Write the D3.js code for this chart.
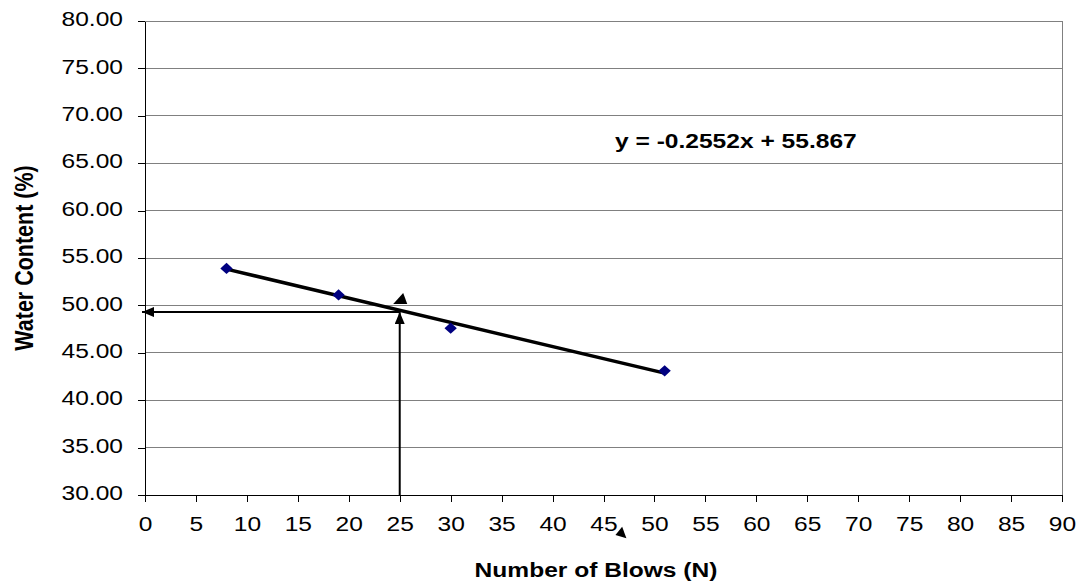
<!DOCTYPE html>
<html><head><meta charset="utf-8">
<script src="https://cdn.jsdelivr.net/npm/d3@7"></script>
<style>body{margin:0;background:#fff;} svg{display:block;} text{font-family:"Liberation Sans",Arial,sans-serif;}</style>
</head><body><svg id="c" width="1080" height="582"></svg>
<script>
// Data
const blows = [8, 19, 30, 51];
const waterContent = [53.9, 51.1, 47.6, 43.1];
const slope = -0.2552, intercept = 55.867;
const trendX = [8, 51];
const xTicks = d3.range(0, 91, 5);
const yTicks = d3.range(30, 80.01, 5);
const xTitle = "Number of Blows (N)";
const yTitle = "Water Content (%)";
const equation = "y = -0.2552x + 55.867";
const liquidLimitN = 25;
const liquidLimitW = 49.3;
// stray arrowheads (data units)
const strayHeads = [
  [[24.36, 50.15], [25.74, 50.15], [25.34, 51.31]],
  [[46.17, 25.78], [46.83, 26.66], [47.25, 25.43]]
];

const SX = 1.17; // horizontal text stretch of the original
const svg = d3.select("#c");
const L = 145, R = 1062, T = 21, B = 495;
const x = d3.scaleLinear().domain([0, 90]).range([L, R]);
const y = d3.scaleLinear().domain([30, 80]).range([B, T]);

// gridlines
svg.append("g").selectAll("line").data(yTicks).join("line")
  .attr("x1", L).attr("x2", R).attr("y1", d => y(d)).attr("y2", d => y(d))
  .attr("stroke", "#808080").attr("stroke-width", 1).attr("shape-rendering", "crispEdges");
// right border
svg.append("line").attr("x1", R).attr("x2", R).attr("y1", T).attr("y2", B)
  .attr("stroke", "#808080").attr("shape-rendering", "crispEdges");

// axes
const xAxis = svg.append("g").attr("transform", `translate(0,${B})`)
  .call(d3.axisBottom(x).tickValues(xTicks).tickSize(7).tickSizeOuter(0).tickPadding(14).tickFormat(d3.format("d")));
const yAxis = svg.append("g").attr("transform", `translate(${L},0)`)
  .call(d3.axisLeft(y).tickValues(yTicks).tickSize(7).tickSizeOuter(0).tickFormat(d3.format(".2f")));
[xAxis, yAxis].forEach(a => {
  a.select(".domain").attr("stroke", "#000").attr("shape-rendering", "crispEdges");
  a.selectAll(".tick line").attr("stroke", "#000").attr("shape-rendering", "crispEdges");
  a.selectAll("text").attr("font-size", 21).attr("fill", "#000").attr("font-family", '"Liberation Sans",Arial,sans-serif');
});
xAxis.selectAll(".tick text").attr("transform", `scale(${SX},1)`);
yAxis.selectAll(".tick text").attr("x", -22 / SX).attr("dy", "0.22em").attr("transform", `scale(${SX},1)`);

// trendline
svg.append("line")
  .attr("x1", x(trendX[0])).attr("y1", y(slope * trendX[0] + intercept))
  .attr("x2", x(trendX[1])).attr("y2", y(slope * trendX[1] + intercept))
  .attr("stroke", "#000").attr("stroke-width", 3.5);

// markers
svg.append("g").selectAll("path").data(blows.map((b, i) => [b, waterContent[i]])).join("path")
  .attr("d", d3.symbol(d3.symbolDiamond2, 80))
  .attr("transform", d => `translate(${x(d[0])},${y(d[1])}) scale(1.1,1)`)
  .attr("fill", "#000080");

// arrows
const defs = svg.append("defs");
defs.append("marker").attr("id", "ah").attr("viewBox", "0 0 12 10").attr("refX", 12).attr("refY", 5)
  .attr("markerWidth", 12).attr("markerHeight", 10).attr("markerUnits", "userSpaceOnUse").attr("orient", "auto")
  .append("path").attr("d", "M0,0L12,5L0,10Z").attr("fill", "#000");
svg.append("line").attr("x1", x(liquidLimitN)).attr("y1", y(liquidLimitW)).attr("x2", x(0) - 3).attr("y2", y(liquidLimitW))
  .attr("stroke", "#000").attr("stroke-width", 2).attr("marker-end", "url(#ah)");
svg.append("line").attr("x1", x(liquidLimitN)).attr("y1", y(30)).attr("x2", x(liquidLimitN)).attr("y2", y(liquidLimitW))
  .attr("stroke", "#000").attr("stroke-width", 2).attr("marker-end", "url(#ah)");
svg.append("g").selectAll("path").data(strayHeads).join("path")
  .attr("d", d => "M" + d.map(p => [x(p[0]), y(p[1])].join(",")).join("L") + "Z")
  .attr("fill", "#000");

// equation
svg.append("text").attr("transform", `translate(615,148) scale(${SX},1)`)
  .attr("font-size", 21).attr("font-weight", "bold").text(equation);

// titles
svg.append("text").attr("transform", `translate(596,577) scale(${SX},1)`).attr("text-anchor", "middle")
  .attr("font-size", 21).attr("font-weight", "bold").text(xTitle);
svg.append("text").attr("transform", `translate(33,${(T + B) / 2}) rotate(-90) scale(1,${SX})`).attr("text-anchor", "middle")
  .attr("font-size", 21.5).attr("font-weight", "bold").text(yTitle);
</script></body></html>
